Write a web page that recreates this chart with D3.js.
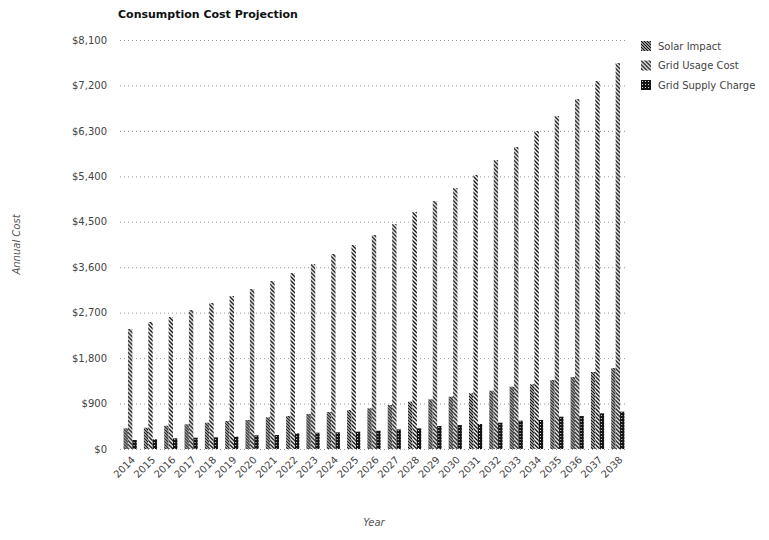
<!DOCTYPE html>
<html>
<head>
<meta charset="utf-8">
<script src="https://cdn.jsdelivr.net/npm/d3@7"></script>
<style>
  html, body { margin: 0; padding: 0; background: #fff; }
  svg { display: block; }
  text { font-family: "DejaVu Sans", Verdana, sans-serif; }
</style>
</head>
<body>
<svg id="chart" width="769" height="540"></svg>
<script>
// Projected annual costs, 2014–2038
const years = d3.range(2014, 2039).map(String);
const seriesNames = ["Solar Impact", "Grid Usage Cost", "Grid Supply Charge"];
const solarImpact = [410, 422, 461, 489, 521, 554, 574, 628, 653, 693, 733, 772, 806,
  871, 937, 984, 1036, 1103, 1154, 1234, 1281, 1366, 1426, 1525, 1604];
const gridUsageCost = [2376, 2515, 2614, 2752, 2891, 3030, 3168, 3326, 3485, 3663, 3861,
  4039, 4237, 4455, 4693, 4910, 5168, 5425, 5722, 5980, 6296, 6593, 6930, 7286, 7643];
const gridSupplyCharge = [178, 192, 211, 224, 231, 244, 271, 277, 310, 323, 330, 343, 363,
  389, 409, 455, 475, 495, 521, 561, 574, 640, 653, 706, 739];
const yTicks = [0, 900, 1800, 2700, 3600, 4500, 5400, 6300, 7200, 8100];

const seriesValues = [solarImpact, gridUsageCost, gridSupplyCharge];
const rows = years.map((y, i) => ({
  year: y,
  values: seriesNames.map((name, k) => ({ name, value: seriesValues[k][i] }))
}));

const svg = d3.select("#chart");
const plot = { left: 120, right: 628, top: 40, bottom: 449 };

// Fill patterns for the three series
const defs = svg.append("defs");
const pSolar = defs.append("pattern").attr("id", "pat-solar")
  .attr("patternUnits", "userSpaceOnUse").attr("width", 3).attr("height", 3);
pSolar.append("rect").attr("width", 3).attr("height", 3).attr("fill", "#fff");
pSolar.append("path").attr("d", "M-1,-1 L4,4 M-1,2 L1,4 M2,-1 L4,1")
  .attr("stroke", "#111").attr("stroke-width", 1.3);

const pUsage = defs.append("pattern").attr("id", "pat-usage")
  .attr("patternUnits", "userSpaceOnUse").attr("width", 4).attr("height", 4);
pUsage.append("rect").attr("width", 4).attr("height", 4).attr("fill", "#fff");
pUsage.append("path").attr("d", "M-1,-1 L5,5 M-1,3 L1,5 M3,-1 L5,1")
  .attr("stroke", "#111").attr("stroke-width", 1.4);

const pSupply = defs.append("pattern").attr("id", "pat-supply")
  .attr("patternUnits", "userSpaceOnUse").attr("width", 3).attr("height", 3);
pSupply.append("rect").attr("width", 3).attr("height", 3).attr("fill", "#151515");
pSupply.append("rect").attr("x", 1).attr("y", 1).attr("width", 1).attr("height", 1).attr("fill", "#ddd");

const fills = {
  "Solar Impact": "url(#pat-solar)",
  "Grid Usage Cost": "url(#pat-usage)",
  "Grid Supply Charge": "url(#pat-supply)"
};

// Scales
const x0 = d3.scaleBand().domain(years).range([plot.left, plot.right])
  .paddingInner(0.35).paddingOuter(0.175);
const x1 = d3.scaleBand().domain(seriesNames).range([0, x0.bandwidth()]);
const y = d3.scaleLinear().domain([0, 8100]).range([plot.bottom, plot.top]);

// Title
svg.append("text")
  .attr("x", 118).attr("y", 18)
  .attr("font-family", "'Liberation Sans', Arial, sans-serif")
  .attr("font-size", 11).attr("font-weight", "bold").attr("fill", "#111")
  .text("Consumption Cost Projection");

// Horizontal grid lines
svg.append("g").selectAll("line").data(yTicks).join("line")
  .attr("x1", plot.left).attr("x2", plot.right)
  .attr("y1", d => y(d) + 0.5).attr("y2", d => y(d) + 0.5)
  .attr("stroke", "#999").attr("stroke-width", 1)
  .attr("stroke-dasharray", "1,3");

// Y axis
const yAxis = d3.axisLeft(y).tickValues(yTicks)
  .tickFormat(d => "$" + d3.format(",")(d)).tickSize(0).tickPadding(0);
const gy = svg.append("g").attr("transform", `translate(107,0)`).call(yAxis);
gy.select(".domain").remove();
gy.selectAll("text").attr("font-size", 10).attr("fill", "#444")
  .attr("font-family", "'DejaVu Sans', Verdana, sans-serif");

// X axis
const xAxis = d3.axisBottom(x0).tickSize(0).tickPadding(0);
const gx = svg.append("g").attr("transform", `translate(0,${plot.bottom + 9})`).call(xAxis);
gx.select(".domain").remove();
gx.selectAll("text")
  .attr("font-size", 10).attr("fill", "#444")
  .attr("font-family", "'DejaVu Sans', Verdana, sans-serif")
  .attr("text-anchor", "end")
  .attr("dy", "0.35em")
  .attr("transform", "translate(3,0) rotate(-45)");

// Bars
const groups = svg.append("g").selectAll("g").data(rows).join("g")
  .attr("transform", d => `translate(${x0(d.year)},0)`);
groups.selectAll("rect").data(d => d.values).join("rect")
  .attr("x", d => x1(d.name))
  .attr("width", x1.bandwidth())
  .attr("y", d => y(d.value))
  .attr("height", d => y(0) - y(d.value))
  .attr("fill", d => fills[d.name]);

// Axis titles
svg.append("text")
  .attr("transform", `translate(20,${(plot.top + plot.bottom) / 2}) rotate(-90)`)
  .attr("text-anchor", "middle").attr("font-size", 10).attr("font-style", "italic")
  .attr("fill", "#555").text("Annual Cost");
svg.append("text")
  .attr("x", (plot.left + plot.right) / 2).attr("y", 526)
  .attr("text-anchor", "middle").attr("font-size", 10).attr("font-style", "italic")
  .attr("fill", "#555").text("Year");

// Legend
const legend = svg.append("g").attr("transform", "translate(641,41)");
const items = legend.selectAll("g").data(seriesNames).join("g")
  .attr("transform", (d, i) => `translate(0,${i * 19.5})`);
items.append("rect").attr("width", 10).attr("height", 10)
  .attr("fill", d => fills[d]);
items.append("text").attr("x", 17).attr("y", 5).attr("dy", "0.35em")
  .attr("font-size", 10).attr("fill", "#444").text(d => d);
</script>
</body>
</html>
